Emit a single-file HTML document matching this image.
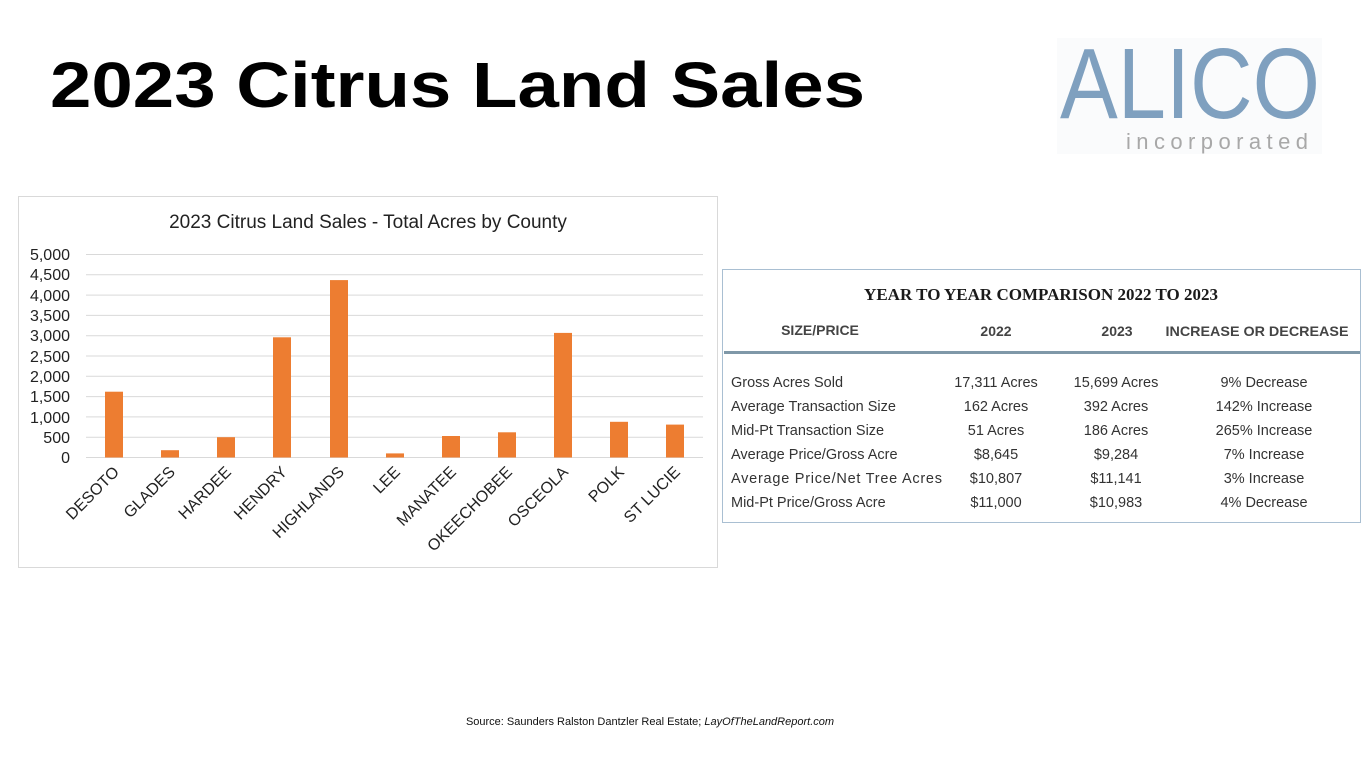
<!DOCTYPE html>
<html><head><meta charset="utf-8"><style>body{margin:0;background:#fff}svg{display:block}</style></head><body>
<svg width="1365" height="768" viewBox="0 0 1365 768" xmlns="http://www.w3.org/2000/svg" font-family="Liberation Sans, sans-serif">
<rect width="1365" height="768" fill="#fff"/>
<text x="50" y="107" font-size="64" font-weight="bold" textLength="815" lengthAdjust="spacingAndGlyphs">2023 Citrus Land Sales</text>
<!-- logo -->
<rect x="1057" y="38" width="265" height="116" fill="#fafbfc"/>
<text x="1060" y="118" font-size="100" fill="#7fa0bf" textLength="260" lengthAdjust="spacingAndGlyphs">ALICO</text>
<text x="1126" y="149" font-size="22" fill="#a8a8a8" textLength="182" lengthAdjust="spacing">incorporated</text>
<!-- chart -->
<rect x="18.5" y="196.5" width="699" height="371" fill="#fff" stroke="#d9d9d9"/>
<text x="368" y="228" font-size="19" text-anchor="middle" fill="#222">2023 Citrus Land Sales - Total Acres by County</text>
<g stroke="#d9d9d9" stroke-width="1">
<line x1="86" x2="703" y1="254.5" y2="254.5"/><line x1="86" x2="703" y1="274.8" y2="274.8"/><line x1="86" x2="703" y1="295.1" y2="295.1"/><line x1="86" x2="703" y1="315.4" y2="315.4"/><line x1="86" x2="703" y1="335.7" y2="335.7"/><line x1="86" x2="703" y1="356" y2="356"/><line x1="86" x2="703" y1="376.3" y2="376.3"/><line x1="86" x2="703" y1="396.6" y2="396.6"/><line x1="86" x2="703" y1="416.9" y2="416.9"/><line x1="86" x2="703" y1="437.2" y2="437.2"/><line x1="86" x2="703" y1="457.5" y2="457.5"/>
</g>
<g font-size="16" text-anchor="end" fill="#222">
<text x="70" y="260">5,000</text><text x="70" y="280">4,500</text><text x="70" y="301">4,000</text><text x="70" y="321">3,500</text><text x="70" y="341">3,000</text><text x="70" y="362">2,500</text><text x="70" y="382">2,000</text><text x="70" y="402">1,500</text><text x="70" y="423">1,000</text><text x="70" y="443">500</text><text x="70" y="463">0</text>
</g>
<g fill="#ed7d31">
<rect x="105" y="391.7" width="18" height="65.8"/>
<rect x="161" y="450.2" width="18" height="7.3"/>
<rect x="217" y="437.2" width="18" height="20.3"/>
<rect x="273" y="337.3" width="18" height="120.2"/>
<rect x="330" y="280.1" width="18" height="177.4"/>
<rect x="386" y="453.4" width="18" height="4.1"/>
<rect x="442" y="436" width="18" height="21.5"/>
<rect x="498" y="432.3" width="18" height="25.2"/>
<rect x="554" y="332.9" width="18" height="124.6"/>
<rect x="610" y="421.8" width="18" height="35.7"/>
<rect x="666" y="424.6" width="18" height="32.9"/>
</g>
<g font-size="16" text-anchor="end" fill="#222">
<text transform="translate(120,473) rotate(-45)">DESOTO</text>
<text transform="translate(176,473) rotate(-45)">GLADES</text>
<text transform="translate(232,473) rotate(-45)">HARDEE</text>
<text transform="translate(288,473) rotate(-45)">HENDRY</text>
<text transform="translate(345,473) rotate(-45)">HIGHLANDS</text>
<text transform="translate(401,473) rotate(-45)">LEE</text>
<text transform="translate(457,473) rotate(-45)">MANATEE</text>
<text transform="translate(513,473) rotate(-45)">OKEECHOBEE</text>
<text transform="translate(569,473) rotate(-45)">OSCEOLA</text>
<text transform="translate(625,473) rotate(-45)">POLK</text>
<text transform="translate(681,473) rotate(-45)">ST LUCIE</text>
</g>
<!-- table -->
<rect x="722.5" y="269.5" width="638" height="253" fill="#fff" stroke="#a9bfd2"/>
<text x="1041" y="300" font-family="Liberation Serif, serif" font-weight="bold" font-size="17" text-anchor="middle" fill="#1a1a1a">YEAR TO YEAR COMPARISON 2022 TO 2023</text>
<g font-size="14" font-weight="bold" fill="#444" text-anchor="middle">
<text x="820" y="335">SIZE/PRICE</text><text x="996" y="336">2022</text><text x="1117" y="336">2023</text><text x="1257" y="336" textLength="183" lengthAdjust="spacingAndGlyphs">INCREASE OR DECREASE</text>
</g>
<rect x="724" y="351" width="636" height="3" fill="#7f98a8"/>
<g font-size="14.5" fill="#333">
<text x="731" y="387">Gross Acres Sold</text><text x="731" y="411">Average Transaction Size</text><text x="731" y="435">Mid-Pt Transaction Size</text><text x="731" y="459">Average Price/Gross Acre</text><text x="731" y="483" textLength="211" lengthAdjust="spacing">Average Price/Net Tree Acres</text><text x="731" y="507">Mid-Pt Price/Gross Acre</text>
</g>
<g font-size="14.5" fill="#333" text-anchor="middle">
<text x="996" y="387">17,311 Acres</text><text x="996" y="411">162 Acres</text><text x="996" y="435">51 Acres</text><text x="996" y="459">$8,645</text><text x="996" y="483">$10,807</text><text x="996" y="507">$11,000</text>
<text x="1116" y="387">15,699 Acres</text><text x="1116" y="411">392 Acres</text><text x="1116" y="435">186 Acres</text><text x="1116" y="459">$9,284</text><text x="1116" y="483">$11,141</text><text x="1116" y="507">$10,983</text>
<text x="1264" y="387">9% Decrease</text><text x="1264" y="411">142% Increase</text><text x="1264" y="435">265% Increase</text><text x="1264" y="459">7% Increase</text><text x="1264" y="483">3% Increase</text><text x="1264" y="507">4% Decrease</text>
</g>
<text x="650" y="725" font-size="11" text-anchor="middle" fill="#111">Source: Saunders Ralston Dantzler Real Estate; <tspan font-style="italic">LayOfTheLandReport.com</tspan></text>
</svg>
</body></html>
